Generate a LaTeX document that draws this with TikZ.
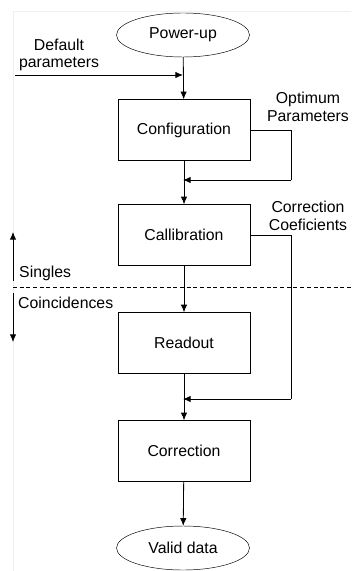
\documentclass[tikz,border=0pt]{standalone}
\usepackage{fontspec}
\setmainfont{Liberation Sans}
\usetikzlibrary{shapes.geometric,arrows.meta}

\begin{document}
\begin{tikzpicture}[x=0.03cm,y=-0.03cm,
  font=\fontsize{13.5}{14.8}\selectfont,
  block/.style={draw,rectangle,minimum width=3.96cm,minimum height=1.83cm,inner sep=0pt},
  term/.style={draw,ellipse,minimum width=3.99cm,minimum height=1.32cm,inner sep=0pt},
  flow/.style={draw,line width=0.7pt,-{Latex[length=6.5pt,width=5.5pt]}},
  wire/.style={draw,line width=0.7pt}]
\useasboundingbox (0,0) rectangle (351,571);
\path[draw=gray!12,line width=0.6pt] (13,571) -- (13,11) -- (351,11);

\node[term] (power) at (183,35) {Power-up};
\node[block] (config) at (184,130) {Configuration};
\node[block] (calib) at (184,235) {Callibration};
\node[block] (readout) at (184,343) {Readout};
\node[block] (correct) at (184,451) {Correction};
\node[term] (valid) at (183,548) {Valid data};

\node[align=center] (defpar) at (59,55) {Default\\parameters};
\node[align=center] (optpar) at (308,107) {Optimum\\Parameters};
\node[align=center] (corcoef) at (308,216) {Correction\\Coeficients};
\node[anchor=west,inner sep=0pt] (singles) at (19,273) {Singles};
\node[anchor=west,inner sep=0pt] (coinc) at (18,303) {Coincidences};

\coordinate (defin) at (15,75);
\coordinate (j0) at (183,75);
\coordinate (j1) at (183,180);
\coordinate (j2) at (183,399);
\coordinate (optc) at (291,180);
\coordinate (corc) at (291,399);
\coordinate (upbot) at (13,281);
\coordinate (uptop) at (13,232);
\coordinate (dntop) at (13,293);
\coordinate (dnbot) at (13,342);
\coordinate (dashl) at (13,287);
\coordinate (dashr) at (351,287);

% main flow
\path[flow] (power) -- (config);
\path[flow] (defin) -- (j0);
\path[flow] (config) -- (calib);
\path[flow] (calib) -- (readout);
\path[flow] (readout) -- (correct);
\path[flow] (correct) -- (valid);

% feedback
\path[wire] (config.east) -| (optc);
\path[flow] (optc) -- (j1);
\path[wire] (calib.east) -| (corc);
\path[flow] (corc) -- (j2);

% singles / coincidences
\path[draw,line width=0.6pt,dash pattern=on 3.4pt off 2.3pt] (dashl) -- (dashr);
\path[flow] (upbot) -- (uptop);
\path[flow] (dntop) -- (dnbot);

\end{tikzpicture}
\end{document}
